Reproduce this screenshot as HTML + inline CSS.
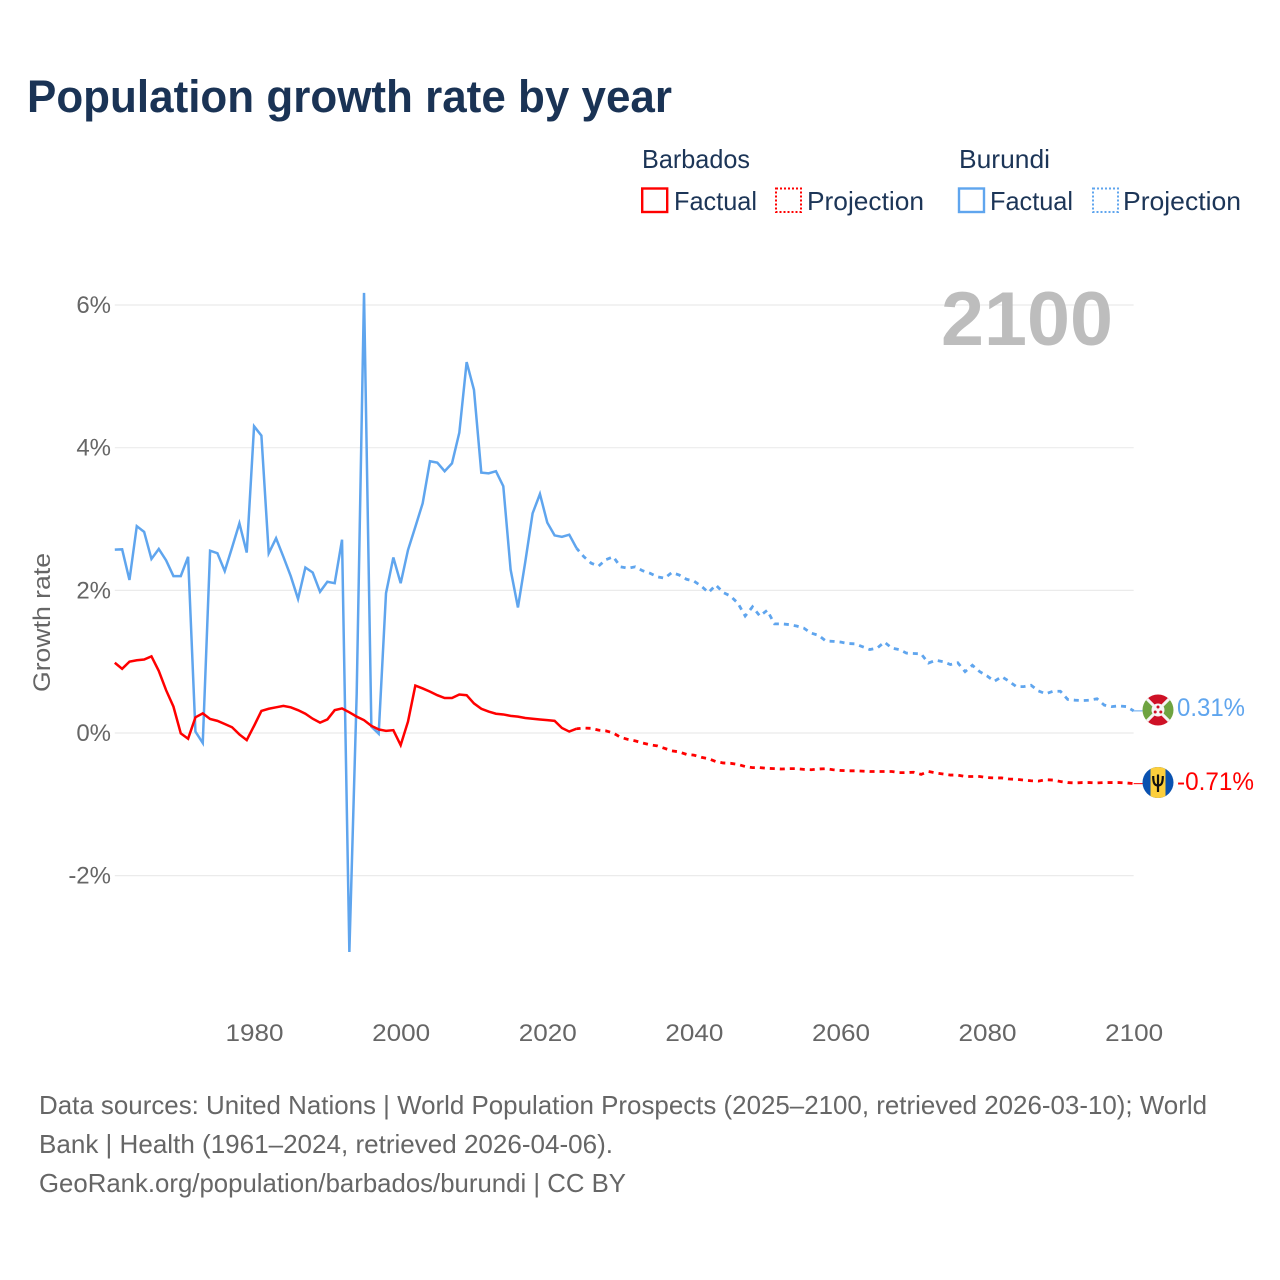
<!DOCTYPE html>
<html lang="en">
<head>
<meta charset="utf-8">
<title>Population growth rate by year</title>
<style>
html,body{margin:0;padding:0;background:#fff;}
svg{display:block;font-family:"Liberation Sans",sans-serif;}
</style>
</head>
<body>
<svg id="chart" xmlns="http://www.w3.org/2000/svg" width="1280" height="1280" viewBox="0 0 1280 1280">
<defs>
<clipPath id="flag-clip-a"><circle cx="1158" cy="710" r="15.5"/></clipPath>
<clipPath id="flag-clip-b"><circle cx="1158" cy="782.5" r="15.5"/></clipPath>
</defs>
<rect width="1280" height="1280" fill="#fff"/>
<text x="27" y="112" font-size="45" font-weight="700" fill="#1a3355" textLength="645" lengthAdjust="spacingAndGlyphs">Population growth rate by year</text>

<g font-size="26" fill="#1c3557">
<text x="642" y="168" textLength="108" lengthAdjust="spacingAndGlyphs">Barbados</text>
<text x="959" y="168" textLength="91" lengthAdjust="spacingAndGlyphs">Burundi</text>
<rect x="642.2" y="188.5" width="25" height="23.5" fill="none" stroke="#ff0000" stroke-width="2.4"/>
<text x="674" y="210" textLength="83" lengthAdjust="spacingAndGlyphs">Factual</text>
<rect x="776" y="188.5" width="25" height="23.5" fill="none" stroke="#ff0000" stroke-width="2" stroke-dasharray="2 2"/>
<text x="807" y="210" textLength="117" lengthAdjust="spacingAndGlyphs">Projection</text>
<rect x="959" y="188.5" width="25" height="23.5" fill="none" stroke="#5fa5ee" stroke-width="2.4"/>
<text x="990" y="210" textLength="83" lengthAdjust="spacingAndGlyphs">Factual</text>
<rect x="1093" y="188.5" width="25" height="23.5" fill="none" stroke="#5fa5ee" stroke-width="2" stroke-dasharray="2 2"/>
<text x="1123" y="210" textLength="118" lengthAdjust="spacingAndGlyphs">Projection</text>
</g>

<g id="grid"></g>
<g id="yticks"></g>
<g id="xticks"></g>
<text transform="translate(50,692) rotate(-90)" font-size="24" fill="#666" textLength="139" lengthAdjust="spacingAndGlyphs">Growth rate</text>
<text x="941" y="345" font-size="76" font-weight="700" fill="#bdbdbd" textLength="172" lengthAdjust="spacingAndGlyphs">2100</text>

<g id="series"></g>

<g clip-path="url(#flag-clip-a)">
<circle cx="1158" cy="710" r="15.5" fill="#f2f2f2"/>
<path d="M1142 694L1174 694L1158 710Z" fill="#ce1126"/>
<path d="M1142 726L1174 726L1158 710Z" fill="#ce1126"/>
<path d="M1142 694L1142 726L1158 710Z" fill="#6ea340"/>
<path d="M1174 694L1174 726L1158 710Z" fill="#6ea340"/>
<path d="M1142 694L1174 726M1174 694L1142 726" stroke="#f4f4f4" stroke-width="3"/>
<circle cx="1158" cy="710" r="6.5" fill="#f6f6f6"/>
<circle cx="1158" cy="707" r="1.5" fill="#ce1126"/>
<circle cx="1155.2" cy="712" r="1.5" fill="#ce1126"/>
<circle cx="1160.8" cy="712" r="1.5" fill="#ce1126"/>
</g>
<g clip-path="url(#flag-clip-b)">
<rect x="1142" y="766" width="32" height="33" fill="#0a52b0"/>
<rect x="1150.5" y="766" width="15" height="33" fill="#fdcf3c"/>
<path d="M1158 774.5V792M1153.2 776C1153.2 783 1154.5 785.5 1158 785.5C1161.5 785.5 1162.8 783 1162.8 776" fill="none" stroke="#111" stroke-width="2.2"/>
</g>
<text id="label-burundi" x="1177" y="716" font-size="25" fill="#5fa5ee" textLength="68" lengthAdjust="spacingAndGlyphs"></text>
<text id="label-barbados" x="1177" y="790" font-size="25" fill="#ff0000" textLength="77" lengthAdjust="spacingAndGlyphs"></text>

<g font-size="26" fill="#666">
<text x="39" y="1114" textLength="1168" lengthAdjust="spacingAndGlyphs">Data sources: United Nations | World Population Prospects (2025–2100, retrieved 2026-03-10); World</text>
<text x="39" y="1153" textLength="574" lengthAdjust="spacingAndGlyphs">Bank | Health (1961–2024, retrieved 2026-04-06).</text>
<text x="39" y="1192" textLength="587" lengthAdjust="spacingAndGlyphs">GeoRank.org/population/barbados/burundi | CC BY</text>
</g>
</svg>
<script>
const firstYear = 1961;
const lastActualYear = 2024;
const yTickValues = [6, 4, 2, 0, -2];
const xTickYears = [1980, 2000, 2020, 2040, 2060, 2080, 2100];

const burundiFactual = [2.57,2.575,2.145,2.90,2.82,2.44,2.58,2.42,2.20,2.20,2.47,0.02,-0.14,2.555,2.52,2.27,2.60,2.94,2.53,4.30,4.17,2.52,2.73,2.47,2.20,1.88,2.32,2.25,1.98,2.12,2.10,2.71,-3.07,0.55,6.17,0.09,-0.01,1.96,2.46,2.10,2.565,2.89,3.22,3.81,3.79,3.67,3.78,4.21,5.20,4.81,3.65,3.64,3.67,3.46,2.29,1.76,2.40,3.08,3.35,2.95,2.77,2.75,2.78,2.59];
const burundiProjection = [2.59,2.47,2.38,2.34,2.43,2.47,2.33,2.31,2.33,2.275,2.24,2.19,2.17,2.25,2.215,2.155,2.13,2.06,1.97,2.075,1.97,1.92,1.82,1.64,1.77,1.64,1.72,1.53,1.53,1.52,1.50,1.47,1.40,1.37,1.29,1.285,1.275,1.255,1.25,1.21,1.17,1.19,1.275,1.19,1.17,1.12,1.115,1.11,0.98,1.02,1.00,0.96,0.985,0.86,0.95,0.86,0.80,0.725,0.79,0.725,0.65,0.65,0.67,0.59,0.55,0.585,0.585,0.47,0.46,0.455,0.46,0.48,0.39,0.37,0.38,0.37,0.31];
const barbadosFactual = [0.985,0.90,1.00,1.02,1.03,1.075,0.87,0.60,0.37,-0.005,-0.08,0.22,0.275,0.196,0.17,0.126,0.08,-0.02,-0.10,0.10,0.31,0.34,0.36,0.38,0.36,0.32,0.27,0.20,0.145,0.19,0.32,0.345,0.29,0.23,0.18,0.10,0.05,0.03,0.04,-0.17,0.16,0.665,0.625,0.58,0.53,0.49,0.49,0.54,0.53,0.415,0.34,0.30,0.27,0.26,0.24,0.23,0.21,0.20,0.19,0.18,0.17,0.07,0.02,0.06];
const barbadosProjection = [0.06,0.07,0.065,0.04,0.03,0.00,-0.06,-0.09,-0.11,-0.14,-0.165,-0.18,-0.215,-0.25,-0.265,-0.30,-0.31,-0.34,-0.36,-0.40,-0.42,-0.425,-0.44,-0.47,-0.485,-0.485,-0.495,-0.50,-0.505,-0.50,-0.50,-0.51,-0.515,-0.505,-0.50,-0.515,-0.525,-0.53,-0.53,-0.535,-0.54,-0.54,-0.54,-0.54,-0.555,-0.555,-0.55,-0.58,-0.54,-0.56,-0.575,-0.59,-0.59,-0.61,-0.61,-0.61,-0.625,-0.63,-0.63,-0.645,-0.65,-0.66,-0.67,-0.675,-0.655,-0.66,-0.68,-0.695,-0.70,-0.695,-0.695,-0.70,-0.695,-0.695,-0.695,-0.70,-0.71];

const NS = 'http://www.w3.org/2000/svg';
const xPos = year => 114.8 + (year - firstYear) * 7.33;
const yPos = value => 733 - value * 71.33;
const pct = value => value.toFixed(2) + '%';

const gridGroup = document.getElementById('grid');
const yTickGroup = document.getElementById('yticks');
const xTickGroup = document.getElementById('xticks');
const seriesGroup = document.getElementById('series');

yTickValues.forEach(v => {
  const line = document.createElementNS(NS, 'line');
  
  
  line.setAttribute('x1', xPos(firstYear));
  line.setAttribute('x2', xPos(2100));
  line.setAttribute('y1', yPos(v));
  line.setAttribute('y2', yPos(v));
  line.setAttribute('stroke', '#ebebeb');
  line.setAttribute('stroke-width', '1.2');
  gridGroup.appendChild(line);
  const t = document.createElementNS(NS, 'text');
  
  
  t.setAttribute('x', 111);
  t.setAttribute('y', yPos(v) + 8);
  t.setAttribute('text-anchor', 'end');
  t.setAttribute('font-size', '24');
  t.setAttribute('fill', '#666');
  t.textContent = v + '%';
  yTickGroup.appendChild(t);
});

xTickYears.forEach(year => {
  const t = document.createElementNS(NS, 'text');
  
  
  t.setAttribute('x', xPos(year) + 0.5);
  t.setAttribute('y', 1041);
  t.setAttribute('text-anchor', 'middle');
  t.setAttribute('font-size', '24');
  t.setAttribute('fill', '#666');
  t.setAttribute('textLength', '58');
  t.setAttribute('lengthAdjust', 'spacingAndGlyphs');
  t.textContent = year;
  xTickGroup.appendChild(t);
});

function pointsFrom(values, startYear) {
  return values.map((v, i) => xPos(startYear + i).toFixed(2) + ',' + yPos(v).toFixed(2)).join(' ');
}

function drawLine(name, values, startYear, color, dashed) {
  const p = document.createElementNS(NS, 'polyline');
  
  
  p.setAttribute('points', pointsFrom(values, startYear));
  p.setAttribute('fill', 'none');
  p.setAttribute('stroke', color);
  p.setAttribute('stroke-width', dashed ? '2.8' : '2.5');
  p.setAttribute('stroke-linejoin', 'miter');
  p.setAttribute('stroke-miterlimit', '4');
  if (dashed) {
    p.setAttribute('stroke-dasharray', '5 5');
    p.setAttribute('stroke-dashoffset', '1');
  }
  seriesGroup.appendChild(p);
}

function drawConnector(name, value, color) {
  const c = document.createElementNS(NS, 'line');
  
  
  c.setAttribute('x1', xPos(2100));
  c.setAttribute('x2', 1143);
  c.setAttribute('y1', yPos(value));
  c.setAttribute('y2', yPos(value));
  c.setAttribute('stroke', color);
  c.setAttribute('stroke-width', '1');
  seriesGroup.appendChild(c);
}

drawLine('burundi-factual-line', burundiFactual, firstYear, '#5fa5ee', false);
drawLine('burundi-projection-line', burundiProjection, lastActualYear, '#5fa5ee', true);
drawLine('barbados-factual-line', barbadosFactual, firstYear, '#ff0000', false);
drawLine('barbados-projection-line', barbadosProjection, lastActualYear, '#ff0000', true);
drawConnector('burundi-end-connector', burundiProjection[burundiProjection.length - 1], '#5fa5ee');
drawConnector('barbados-end-connector', barbadosProjection[barbadosProjection.length - 1], '#ff0000');

document.getElementById('label-burundi').textContent = pct(burundiProjection[burundiProjection.length - 1]);
document.getElementById('label-barbados').textContent = pct(barbadosProjection[barbadosProjection.length - 1]);
</script>
</body>
</html>
